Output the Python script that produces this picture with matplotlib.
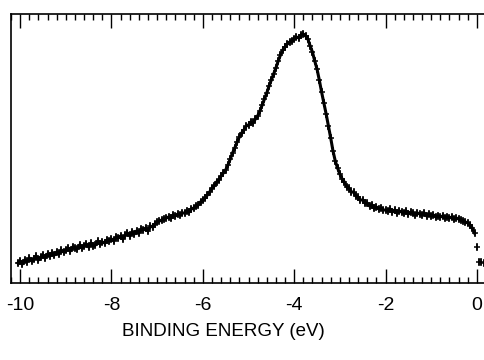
import numpy as np
import matplotlib
matplotlib.use("Agg")
import matplotlib.pyplot as plt
from matplotlib.ticker import MultipleLocator

plt.rcParams['font.family'] = ['Liberation Sans', 'DejaVu Sans']
plt.rcParams['axes.unicode_minus'] = False

# binding energy grid (eV), 0.05 eV steps from -10.05 to 0.15
energy = np.round(np.arange(-10.05, 0.151, 0.05), 2)

# intensity (arb. units)
intensity = [
    20, 22, 19, 23, 21, 25, 22, 24, 27, 23, 26, 28, 25, 29, 27, 30, 28, 31, 29, 33, 31,
    33, 35, 32, 36, 35, 34, 38, 35, 37, 39, 36, 40, 37, 38, 42, 39, 41, 40, 43, 42,
    44, 42, 46, 45, 47, 44, 48, 50, 47, 51, 49, 52, 50, 54, 53, 55, 52, 57, 56, 59,
    61, 62, 63, 64, 65, 66, 65, 68, 67, 69, 68, 70, 70, 72, 71, 74, 75, 77, 78, 81,
    83, 85, 88, 91, 95, 97, 101, 103, 107, 110, 113, 118, 124, 130, 135, 141, 146, 150, 153, 157,
    158, 161, 160, 164, 167, 172, 178, 184, 190, 197, 203, 209, 215, 222, 228, 233, 236, 239, 241, 242,
    244, 246, 245, 248, 249, 247, 244, 237, 231, 222, 214, 203, 191, 180, 169, 157, 145, 132, 122, 115,
    109, 104, 101, 96, 95, 91, 91, 87, 86, 83, 83, 80, 80, 77, 78, 75, 76, 74, 75, 73,
    73, 72, 74, 71, 73, 70, 72, 71, 70, 72, 69, 71, 70, 68, 70, 69, 68, 70, 67, 69,
    67, 68, 66, 67, 66, 67, 65, 66, 65, 66, 64, 65, 64, 63, 62, 61, 60, 58, 55, 50,
    36, 21, 21, 20,
]
uncertainty = 4

xticks = [-10, -8, -6, -4, -2, 0]
xticklabels = ['-10', '-8', '-6', '-4', '-2', '0']
xlabel = 'BINDING ENERGY (eV)'

fig = plt.figure(figsize=(4.85, 3.6), dpi=100)
ax = fig.add_axes([11 / 485, 77 / 360, 475 / 485, 269 / 360])

n_band = len(intensity) - 4
ax.plot(energy[:n_band], intensity[:n_band], color='black', lw=2.2)
ax.errorbar(energy, intensity, yerr=uncertainty, fmt='+', ms=5, mew=1.1,
            color='black', ecolor='black', elinewidth=1.1, capsize=0)

ax.set_xlim(-10.2, 0.2)
ax.set_ylim(0, 269)
ax.set_xticks(xticks)
ax.set_xticklabels(xticklabels, fontsize=14)
ax.xaxis.set_minor_locator(MultipleLocator(0.2))
ax.set_yticks([])
ax.tick_params(axis='x', which='major', direction='in', length=10, width=1,
               top=True, bottom=True, pad=10)
ax.tick_params(axis='x', which='minor', direction='in', length=4, width=1,
               top=True, bottom=True)
for sp in ax.spines.values():
    sp.set_linewidth(1.2)

fig.text(223.5 / 485, 24 / 360, xlabel, fontsize=13.5, ha='center', va='baseline')

fig.savefig('out.png', dpi=100)
